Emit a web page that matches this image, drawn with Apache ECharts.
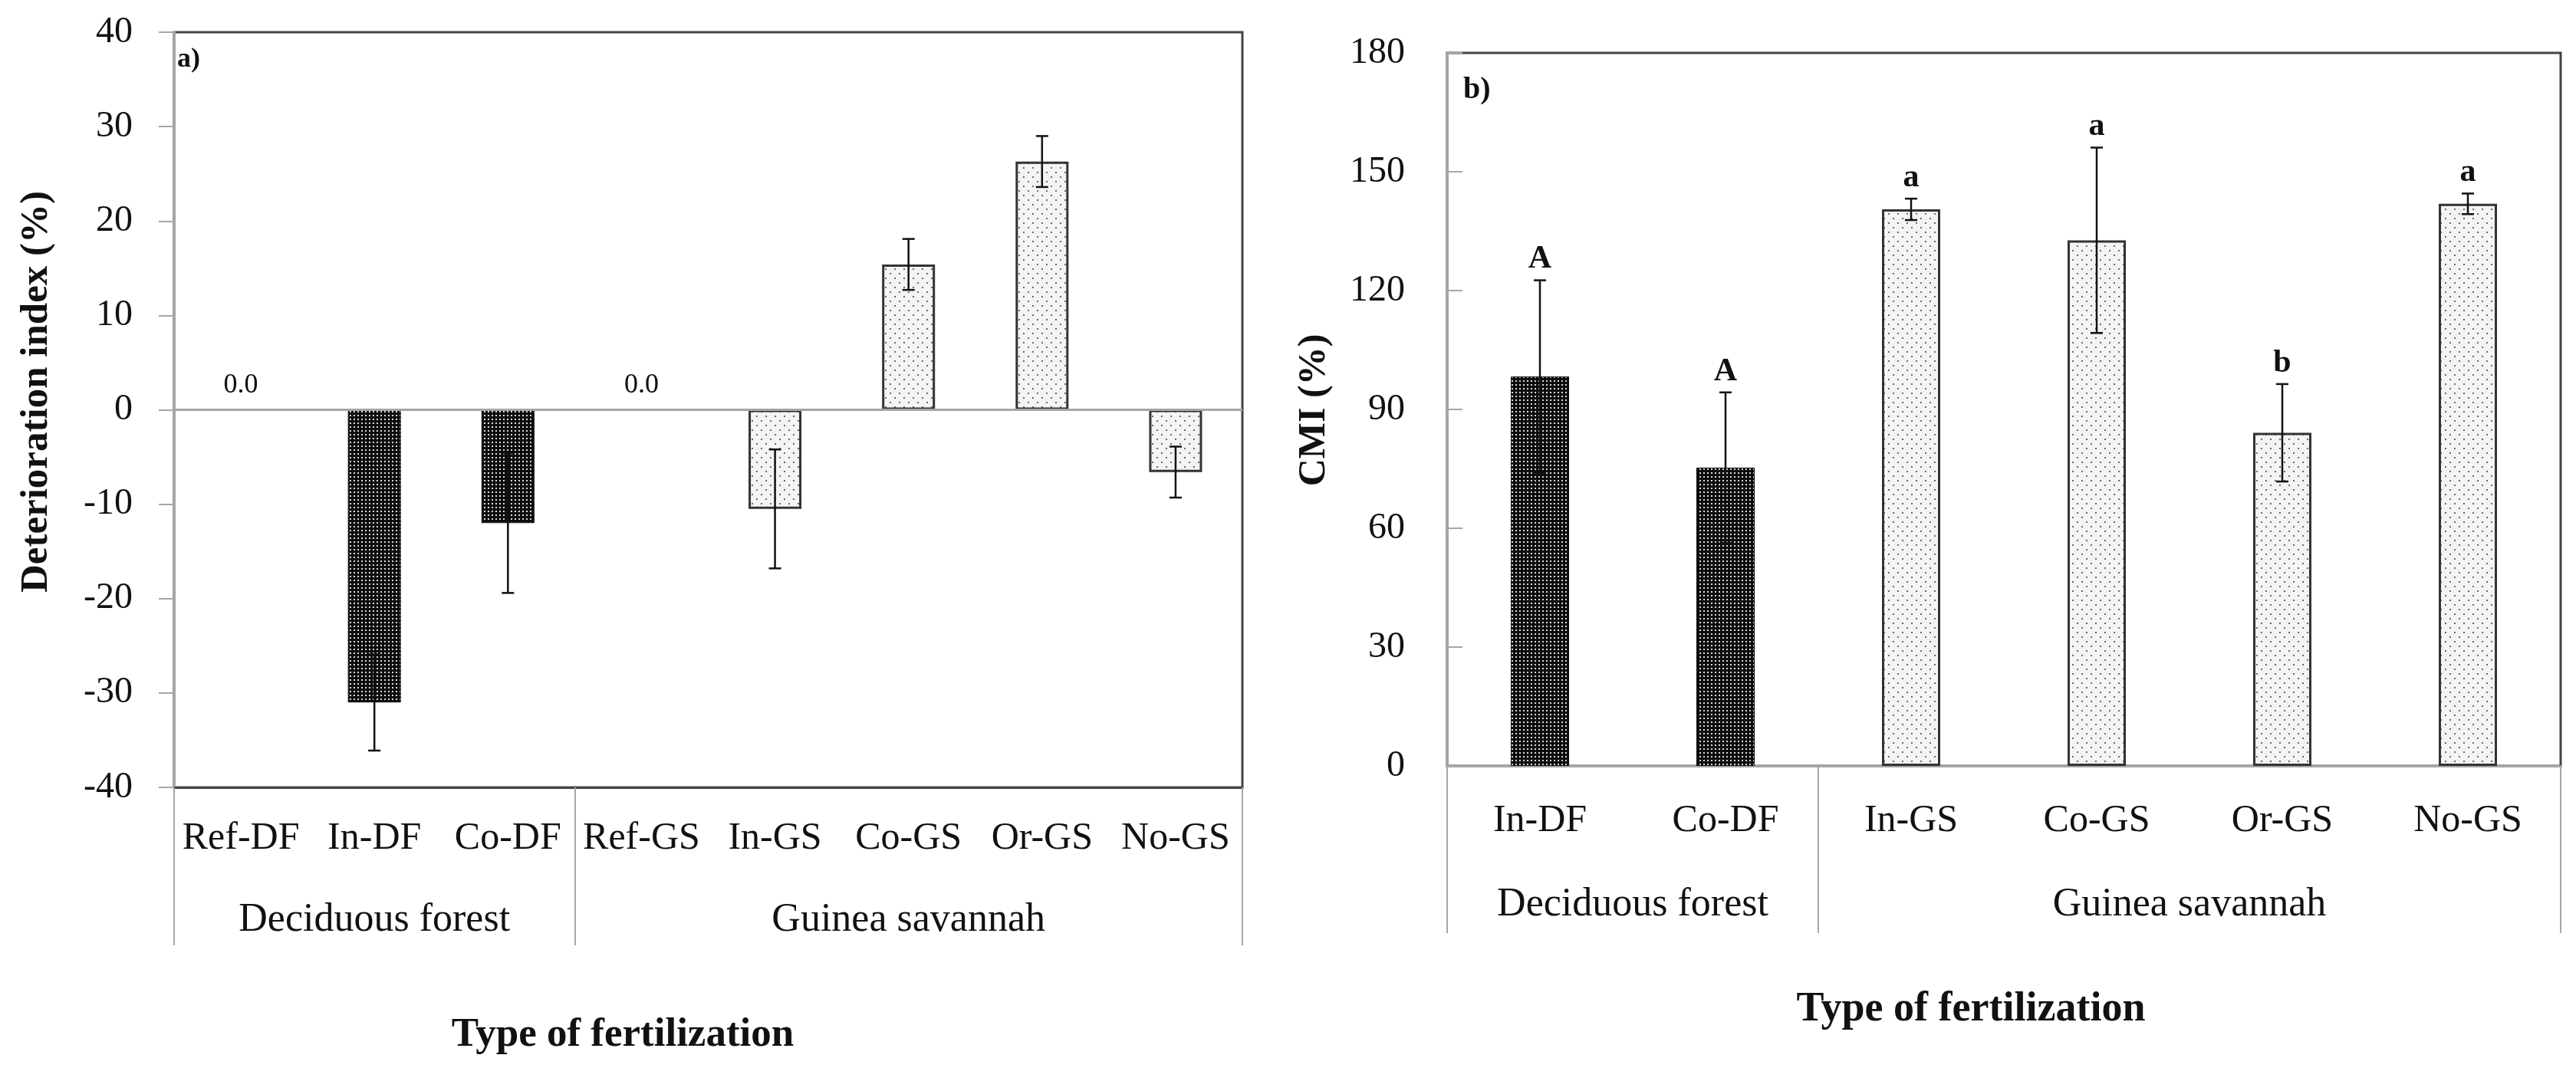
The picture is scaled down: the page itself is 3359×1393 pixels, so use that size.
<!DOCTYPE html>
<html>
<head>
	<meta charset="utf-8">
	<title>Deterioration index and CMI</title>
    <script src="https://cdn.jsdelivr.net/npm/echarts/dist/echarts.min.js"></script>
    <style>
        html, body { margin: 0; padding: 0; background: #fff; }
    </style>
</head>
<body>
    <div id="main" style="width: 3359px;height:1393px;"></div>
	<script type="text/javascript">
        // panel a)
        const leftCats = ['Ref-DF', 'In-DF', 'Co-DF', 'Ref-GS', 'In-GS', 'Co-GS', 'Or-GS', 'No-GS'];
        const leftValues = [0, -31.0, -12.0, 0, -10.5, 15.4, 26.3, -6.6];
        const leftErrors = [0, 5.1, 7.4, 0, 6.3, 2.7, 2.7, 2.7];
        const leftGroups = ['Deciduous forest', 'Guinea savannah'];
        const leftGroupSizes = [3, 5];
        const leftYTicks = { min: -40, max: 40, step: 10 };

        // panel b)
        const rightCats = ['In-DF', 'Co-DF', 'In-GS', 'Co-GS', 'Or-GS', 'No-GS'];
        const rightValues = [98.3, 75.3, 140.5, 132.7, 84.1, 141.9];
        const rightErrors = [24.3, 19.0, 2.7, 23.4, 12.3, 2.6];
        const rightLetters = ['A', 'A', 'a', 'a', 'b', 'a'];
        const rightGroups = ['Deciduous forest', 'Guinea savannah'];
        const rightGroupSizes = [2, 4];
        const rightYTicks = { min: 0, max: 180, step: 30 };

        const serif = "'Liberation Serif', 'Times New Roman', serif";
        const ink = '#111';
        const axisGray = '#a6a6a6';
        const frame = '#444';

        function makePattern(w, h, bg, dot, dots, size) {
            const c = document.createElement('canvas');
            c.width = w; c.height = h;
            const ctx = c.getContext('2d');
            ctx.fillStyle = bg;
            ctx.fillRect(0, 0, w, h);
            ctx.fillStyle = dot;
            dots.forEach(p => ctx.fillRect(p[0], p[1], size, size));
            return { image: c, repeat: 'repeat' };
        }
        const darkFill = makePattern(5, 5, '#0d0d0d', '#d8d8d8', [[1, 1]], 2);
        const lightFill = makePattern(12, 12, '#f4f4f4', '#6a6a6a', [[2, 2], [8, 8]], 2);

        function groupInfo(sizes) {
            const starts = [], centers = [];
            let acc = 0;
            sizes.forEach(s => { starts.push(acc); centers.push(acc + s / 2); acc += s; });
            return { starts, centers, total: acc };
        }
        const leftG = groupInfo(leftGroupSizes);
        const rightG = groupInfo(rightGroupSizes);

        function barData(cats, values, withZeroLabel) {
            return values.map((v, i) => {
                const df = cats[i].endsWith('-DF');
                const item = {
                    value: v,
                    itemStyle: {
                        color: df ? darkFill : lightFill,
                        borderColor: df ? '#0d0d0d' : '#333',
                        borderWidth: v === 0 ? 0 : (df ? 1 : 3)
                    }
                };
                if (withZeroLabel && v === 0) {
                    item.label = {
                        show: true, position: 'top', distance: 14,
                        formatter: () => v.toFixed(1),
                        fontFamily: serif, fontSize: 36, color: ink
                    };
                }
                return item;
            });
        }

        function errorData(values, errors) {
            const out = [];
            values.forEach((v, i) => {
                if (errors[i] > 0) out.push([i, v - errors[i], v + errors[i]]);
            });
            return out;
        }

        function errorRender(letters) {
            return function (params, api) {
                const i = api.value(0);
                const lo = api.coord([i, api.value(1)]);
                const hi = api.coord([i, api.value(2)]);
                const cap = 8;
                const st = { stroke: ink, lineWidth: 2.5 };
                const children = [
                    { type: 'line', shape: { x1: lo[0], y1: lo[1], x2: hi[0], y2: hi[1] }, style: st },
                    { type: 'line', shape: { x1: lo[0] - cap, y1: lo[1], x2: lo[0] + cap, y2: lo[1] }, style: st },
                    { type: 'line', shape: { x1: hi[0] - cap, y1: hi[1], x2: hi[0] + cap, y2: hi[1] }, style: st }
                ];
                if (letters) {
                    children.push({
                        type: 'text', x: hi[0], y: hi[1] - 6,
                        style: {
                            text: letters[i], fill: ink, fontFamily: serif,
                            fontSize: 42, fontWeight: 'bold', align: 'center', verticalAlign: 'bottom'
                        }
                    });
                }
                return { type: 'group', children };
            };
        }

        function catAxis(gridIndex, cats, starts, lineColor, tickLen, margin) {
            return {
                type: 'category', gridIndex, data: cats, position: 'bottom',
                axisLine: { onZero: false, lineStyle: { color: lineColor, width: 3 } },
                axisTick: {
                    show: true, length: tickLen,
                    interval: (idx) => starts.indexOf(idx) >= 0,
                    lineStyle: { color: axisGray, width: 2 }
                },
                axisLabel: { interval: 0, margin, fontFamily: serif, fontSize: 50, color: ink },
                splitLine: { show: false }
            };
        }

        function groupAxis(gridIndex, info, names, margin) {
            return {
                type: 'value', gridIndex, position: 'bottom',
                min: 0, max: info.total, interval: 0.5,
                axisLine: { show: false }, axisTick: { show: false }, splitLine: { show: false },
                axisLabel: {
                    margin, fontFamily: serif, fontSize: 52, color: ink,
                    showMinLabel: true, showMaxLabel: true,
                    formatter: (v) => {
                        const k = info.centers.indexOf(v);
                        return k >= 0 ? names[k] : '';
                    }
                }
            };
        }

        function valAxis(gridIndex, t, inside, margin) {
            return {
                type: 'value', gridIndex, min: t.min, max: t.max, interval: t.step,
                axisLine: { show: true, onZero: false, lineStyle: { color: axisGray, width: 3 } },
                axisTick: { show: true, inside, length: 20, lineStyle: { color: axisGray, width: 2 } },
                axisLabel: { margin, fontFamily: serif, fontSize: 48, color: ink },
                splitLine: { show: false }
            };
        }

        const myChart = echarts.init(document.getElementById('main'));
        const options = {
            backgroundColor: '#fff',
            animation: false,
            grid: [
                { left: 227, top: 42, width: 1393, height: 985, show: true, borderColor: frame, borderWidth: 3, outerBoundsMode: 'none' },
                { left: 1887, top: 69, width: 1452, height: 930, show: true, borderColor: frame, borderWidth: 3, outerBoundsMode: 'none' }
            ],
            xAxis: [
                catAxis(0, leftCats, leftG.starts, frame, 206, 42),
                groupAxis(0, leftG, leftGroups, 147),
                catAxis(1, rightCats, rightG.starts, axisGray, 218, 47),
                groupAxis(1, rightG, rightGroups, 155)
            ],
            yAxis: [
                valAxis(0, leftYTicks, false, 54),
                valAxis(1, rightYTicks, true, 55)
            ],
            series: [
                {
                    type: 'bar', xAxisIndex: 0, yAxisIndex: 0, barWidth: 69,
                    data: barData(leftCats, leftValues, true),
                    markLine: {
                        silent: true, symbol: 'none', label: { show: false },
                        lineStyle: { color: axisGray, width: 3, type: 'solid' },
                        data: [{ yAxis: 0 }]
                    }
                },
                {
                    type: 'custom', xAxisIndex: 0, yAxisIndex: 0, z: 5,
                    renderItem: errorRender(null),
                    encode: { x: 0, y: [1, 2] },
                    data: errorData(leftValues, leftErrors)
                },
                {
                    type: 'bar', xAxisIndex: 2, yAxisIndex: 1, barWidth: 76,
                    data: barData(rightCats, rightValues, false)
                },
                {
                    type: 'custom', xAxisIndex: 2, yAxisIndex: 1, z: 5,
                    renderItem: errorRender(rightLetters),
                    encode: { x: 0, y: [1, 2] },
                    data: errorData(rightValues, rightErrors)
                }
            ],
            graphic: [
                { type: 'text', x: 48, y: 511, rotation: Math.PI / 2,
                  style: { text: 'Deterioration index (%)', fontFamily: serif, fontSize: 51, fontWeight: 'bold', fill: ink, align: 'center', verticalAlign: 'middle' } },
                { type: 'text', x: 1714, y: 535, rotation: Math.PI / 2,
                  style: { text: 'CMI (%)', fontFamily: serif, fontSize: 50, fontWeight: 'bold', fill: ink, align: 'center', verticalAlign: 'middle' } },
                { type: 'text', x: 812, y: 1350,
                  style: { text: 'Type of fertilization', fontFamily: serif, fontSize: 53, fontWeight: 'bold', fill: ink, align: 'center', verticalAlign: 'middle' } },
                { type: 'text', x: 2570, y: 1317,
                  style: { text: 'Type of fertilization', fontFamily: serif, fontSize: 54, fontWeight: 'bold', fill: ink, align: 'center', verticalAlign: 'middle' } },
                { type: 'text', x: 231, y: 60,
                  style: { text: 'a)', fontFamily: serif, fontSize: 36, fontWeight: 'bold', fill: ink } },
                { type: 'text', x: 1908, y: 98,
                  style: { text: 'b)', fontFamily: serif, fontSize: 40, fontWeight: 'bold', fill: ink } }
            ]
        };
        myChart.setOption(options);
	</script>
</body>
</html>
